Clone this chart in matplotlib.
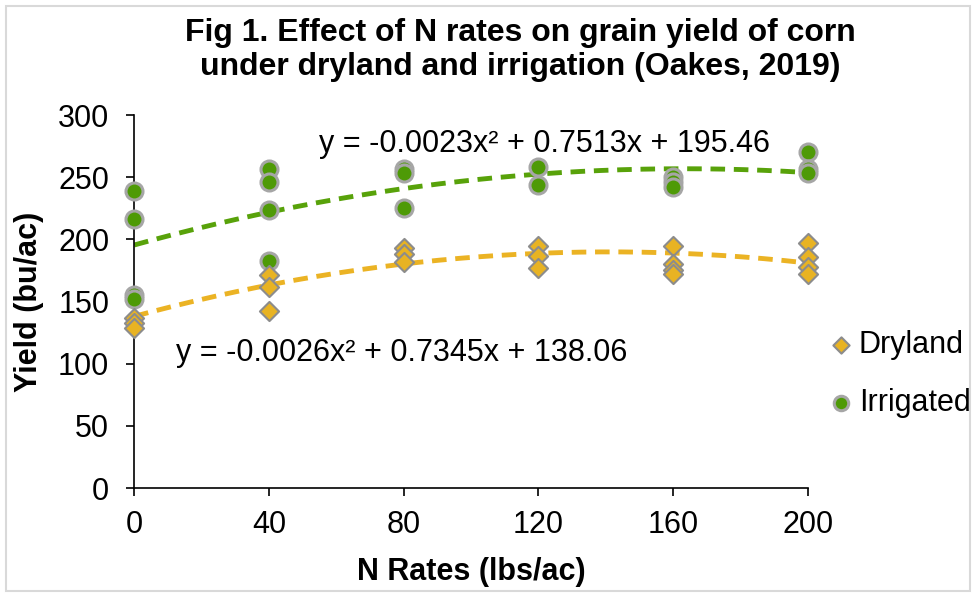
import numpy as np
import matplotlib.pyplot as plt

plt.rcParams['font.family'] = ['Liberation Sans', 'DejaVu Sans']

dry_x = [0, 0, 0, 40, 40, 40, 80, 80, 80, 120, 120, 120, 160, 160, 160, 160, 200, 200, 200, 200]
dry_y = [137, 133, 129, 171, 162, 142, 193, 188, 182, 195, 187, 177, 195, 180, 175, 172, 197, 186, 178, 172]
irr_x = [0, 0, 0, 0, 40, 40, 40, 40, 80, 80, 80, 120, 120, 160, 160, 160, 200, 200, 200]
irr_y = [239, 216, 155, 152, 257, 246, 224, 183, 257, 253, 225, 258, 244, 250, 246, 242, 270, 257, 253]

dry_coef = [-0.0026, 0.7345, 138.06]
irr_coef = [-0.0023, 0.7513, 195.46]

fig = plt.figure(figsize=(9.72, 5.93), dpi=100)
ax = fig.add_axes([0.138, 0.177, 0.693, 0.629])

xs = np.linspace(0, 200, 200)
ax.plot(xs, np.polyval(irr_coef, xs), ls=(0, (3, 1.8)), color='#58A20A', lw=3.5, zorder=2)
ax.plot(xs, np.polyval(dry_coef, xs), ls=(0, (3, 1.8)), color='#EBB324', lw=3.5, zorder=2)

ax.scatter(irr_x, irr_y, s=150, marker='o', color='#4E9A06', edgecolor='#A6A6A6',
           linewidth=2.2, label='Irrigated', zorder=3, clip_on=False)
ax.scatter(dry_x, dry_y, s=95, marker='D', color='#E8B323', edgecolor='#8C8C8C',
           linewidth=1.5, label='Dryland', zorder=3, clip_on=False)

ax.set_xlim(0, 200)
ax.set_ylim(0, 300)
ax.set_xticks([0, 40, 80, 120, 160, 200])
ax.set_yticks(range(0, 301, 50))
ax.tick_params(labelsize=22, length=6, width=1.2, direction='out')
ax.tick_params(axis='x', pad=10)
ax.tick_params(axis='y', pad=12)
for s in ['top', 'right']:
    ax.spines[s].set_visible(False)
for s in ['left', 'bottom']:
    ax.spines[s].set_linewidth(1.2)

ax.set_xlabel('N Rates (lbs/ac)', fontsize=22, fontweight='bold', labelpad=12)
ax.set_ylabel('Yield (bu/ac)', fontsize=22, fontweight='bold', labelpad=10)
fig.text(0.535, 0.97, 'Fig 1. Effect of N rates on grain yield of corn\nunder dryland and irrigation (Oakes, 2019)',
         fontsize=23, fontweight='bold', ha='center', va='top', linespacing=1.2)

ax.text(55, 277, 'y = -0.0023x² + 0.7513x + 195.46', fontsize=22, ha='left', va='center')
ax.text(12.5, 109, 'y = -0.0026x² + 0.7345x + 138.06', fontsize=22, ha='left', va='center')

handles, labels = ax.get_legend_handles_labels()
ax.legend(handles[::-1], labels[::-1], loc='center left', bbox_to_anchor=(1.026, 0.306),
          frameon=False, fontsize=22, handletextpad=0.1, handlelength=1.0, labelspacing=0.9,
          borderpad=0, borderaxespad=0, markerscale=0.85)

fig.patches.append(plt.Rectangle((6 / 972, 2 / 593), 1 - 8 / 972, 1 - 8 / 593,
                                 transform=fig.transFigure, fill=False,
                                 edgecolor='#D9D9D9', lw=1.5))
fig.savefig('out.png', dpi=100)
